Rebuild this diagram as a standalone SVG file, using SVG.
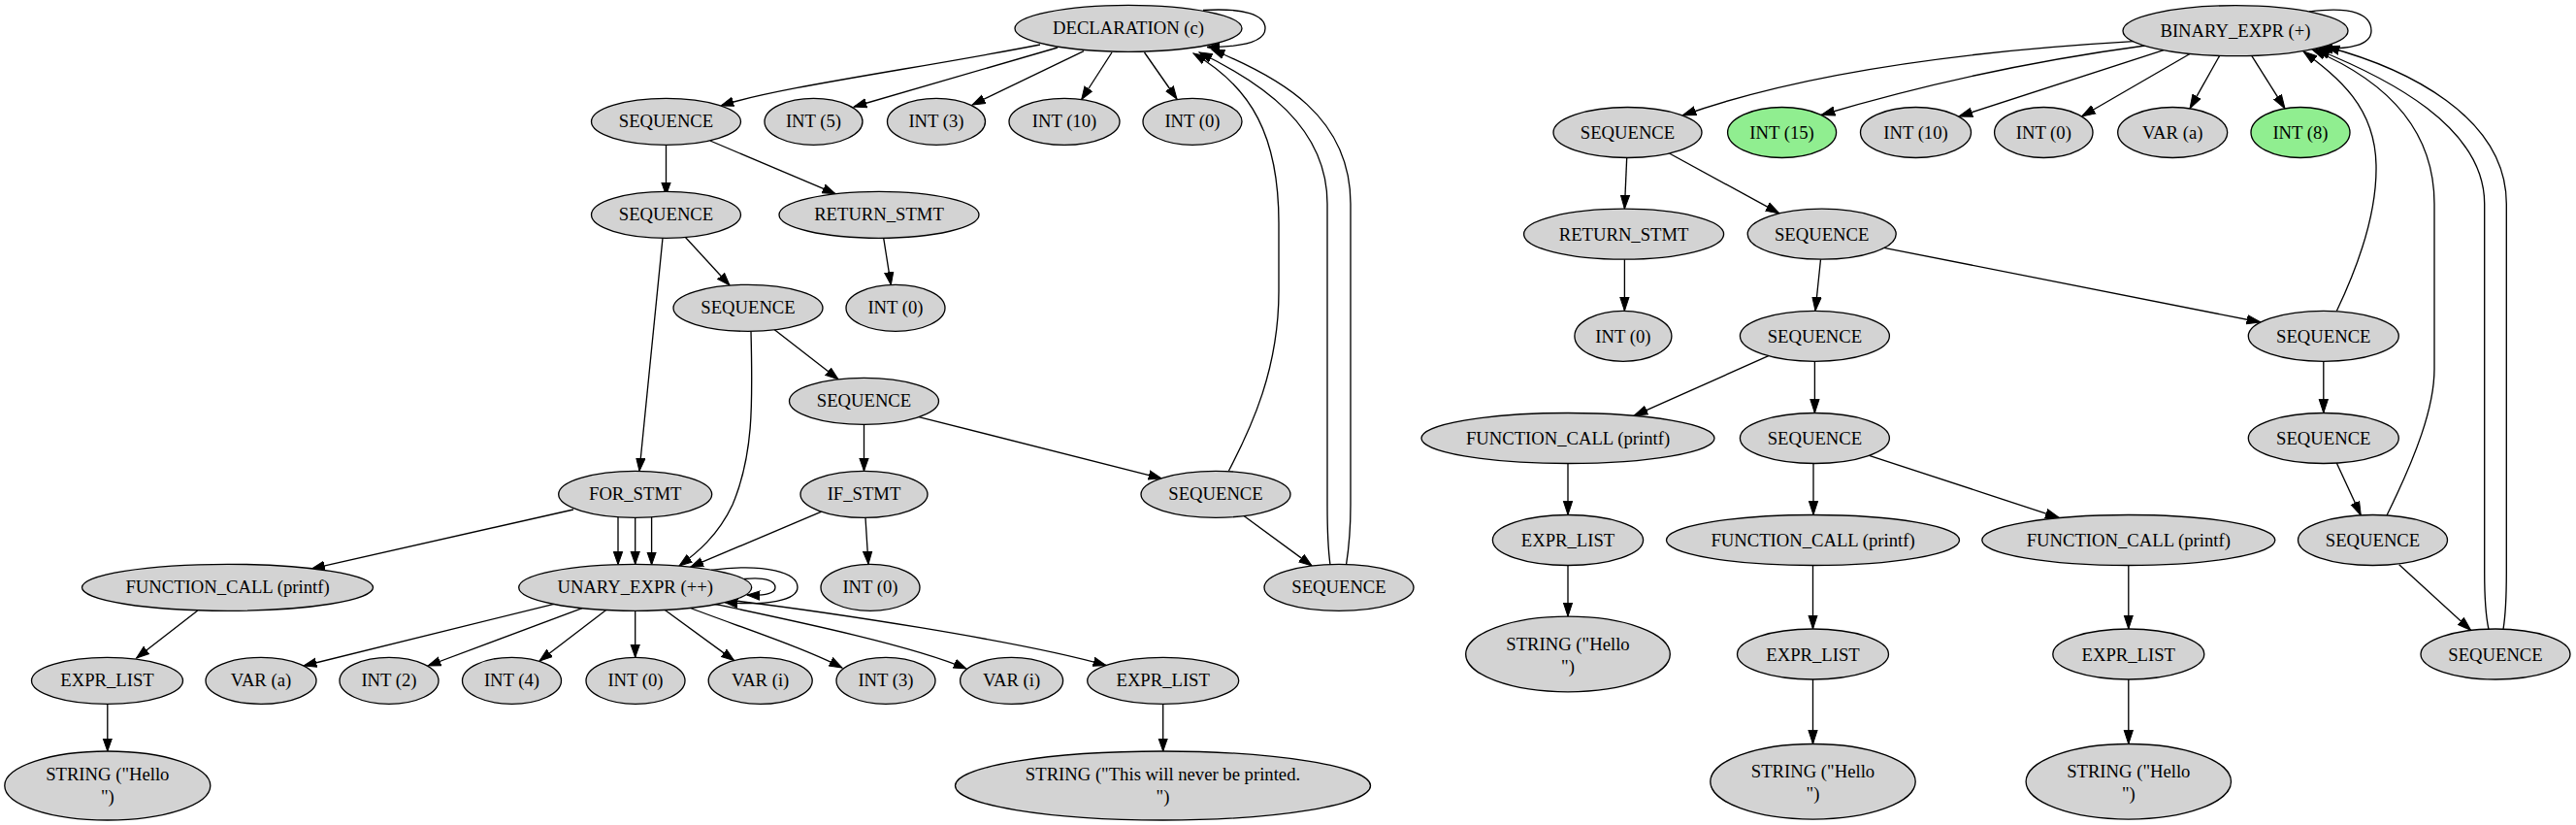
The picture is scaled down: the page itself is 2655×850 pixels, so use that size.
<svg xmlns="http://www.w3.org/2000/svg" width="2655" height="850" viewBox="0 0 2655 850">
<style>
.node ellipse{fill:#d3d3d3;stroke:#000;stroke-width:1.33}
.node.green ellipse{fill:#90ee90}
.node text{font-family:"Liberation Serif","Times New Roman",serif;font-size:18.67px;text-anchor:middle;fill:#000}
.edges path{fill:none;stroke:#000;stroke-width:1.33}
.edges.l path{marker-end:url(#aL)}
.edges.r path{marker-end:url(#aR)}
</style>
<defs>
<marker id="aL" markerUnits="userSpaceOnUse" markerWidth="16" markerHeight="12" viewBox="0 -6 16 12" refX="13.3" refY="0" orient="auto"><path d="M0,-4.67L13.3,0L0,4.67z" fill="#000" stroke="#000" stroke-width="1"/></marker>
<marker id="aR" markerUnits="userSpaceOnUse" markerWidth="17" markerHeight="12" viewBox="0 -6 17 12" refX="14.3" refY="0" orient="auto"><path d="M0,-4.67L14.3,0L0,4.67z" fill="#000" stroke="#000" stroke-width="1"/></marker>
</defs>
<rect width="2655" height="850" fill="#fff"/>

<g id="connectors-left" class="edges l">
<path d="M1072,46 C950,70 800,90 743,109"/>
<path d="M1090,49 L880,110"/>
<path d="M1117,52.7 L1002,108"/>
<path d="M1146,54 L1114.7,102.5"/>
<path d="M1179.5,54 L1213,102"/>
<path d="M1240,10.5 C1282,8 1304,15 1304,29.3 C1304,42 1285,48.5 1244,48.5"/>
<path d="M1266.5,485 C1290,440 1318,380 1318,300 L1318,230 C1318,140 1290,90 1230,55"/>
<path d="M1371,582 C1368,560 1368,540 1368,520 L1368,210 C1368,130 1300,85 1236,54"/>
<path d="M1387.5,582 C1391,560 1392,540 1392,520 L1392,210 C1392,120 1320,80 1249,51"/>
<path d="M686.5,149.3 L686.5,201.3"/>
<path d="M731.9,145 L861,199.7"/>
<path d="M683,245.3 L659,485.3"/>
<path d="M706,244 L752,294"/>
<path d="M910.7,245.3 L918.3,293.5"/>
<path d="M798,339.5 L864,390.8"/>
<path d="M774,341.3 C776,420 776,470 755,520 C740,552 718,570 700,583"/>
<path d="M637,532.5 L637,581.7"/>
<path d="M654.7,533.3 L654.7,581.3"/>
<path d="M671.6,532.5 L671.6,582"/>
<path d="M846.7,527.1 L711.7,584.2"/>
<path d="M892,533.3 L895,581.3"/>
<path d="M890.5,437.3 L890.5,485.3"/>
<path d="M947,429.6 L1197,492.8"/>
<path d="M1282,531.5 L1352,582.9"/>
<path d="M591,525 L321.5,585.8"/>
<path d="M203.8,629 L140.6,678"/>
<path d="M110.8,725.3 L110.8,774"/>
<path d="M573,621.9 L313,686"/>
<path d="M600,626.7 L441,686"/>
<path d="M625,628.3 L556,681"/>
<path d="M654.7,629.3 L654.7,677.3"/>
<path d="M685,628.3 L756.7,680.6"/>
<path d="M711.7,626.5 C760,645 830,668 868,688"/>
<path d="M735,622 C820,640 940,665 996,689"/>
<path d="M750,618 C850,630 1050,660 1140,685.5"/>
<path d="M767,596.5 C790,594 799,599 799,605.3 C799,611 790,614 770,613"/>
<path d="M733,587.3 C790,580 822,590 822,605 C822,619 790,624 747,620.6"/>
<path d="M1198.7,725.3 L1198.7,774"/>
</g>

<g id="connectors-right" class="edges r">
<path d="M2199,42.7 Q1900,60 1734,119"/>
<path d="M2211,47 Q2040,70 1877,118.5"/>
<path d="M2230,51.7 L2018.7,120.1"/>
<path d="M2257,55.5 L2145.5,120"/>
<path d="M2287.7,57.3 L2257,111.8"/>
<path d="M2320.7,57.3 L2355,111.8"/>
<path d="M2380,12 C2425,6 2444,15 2444,31.7 C2444,47 2420,51 2390,50"/>
<path d="M2408.3,320.5 C2430,275 2450,220 2449,170 C2448,110 2410,80 2374,53"/>
<path d="M2460,531 C2490,470 2509,420 2509,380 L2509,210 C2509,120 2440,75 2383,51"/>
<path d="M2565,648.5 C2561,630 2560.7,610 2560.7,590 L2560.7,210 C2560.7,130 2460,80 2387,50.5"/>
<path d="M2580,648.5 C2583,630 2583.3,610 2583.3,590 L2583.3,210 C2583.3,120 2480,70 2397,48"/>
<path d="M1676.7,162.5 L1674.4,215.2"/>
<path d="M1720.5,158 L1834,219.9"/>
<path d="M1674.4,267.2 L1674.4,320.3"/>
<path d="M1876.5,267.2 L1871,320.3"/>
<path d="M1941.9,255.3 L2330,332"/>
<path d="M1822.7,366.7 L1684,428.3"/>
<path d="M1870.4,372.3 L1870.4,425.5"/>
<path d="M2394.8,372.3 L2394.8,425.5"/>
<path d="M1616,477.5 L1616,530.5"/>
<path d="M1869,477.5 L1869,530.5"/>
<path d="M1926.5,469.3 L2122.5,533.6"/>
<path d="M2408.3,477 L2433.3,531"/>
<path d="M2472.7,581.7 L2546.7,649.5"/>
<path d="M1616,582.5 L1616,635.2"/>
<path d="M1868.5,582.5 L1868.5,648"/>
<path d="M2193.8,582.5 L2193.8,648"/>
<path d="M1868.5,700 L1868.5,766.5"/>
<path d="M2193.8,700 L2193.8,766.5"/>
</g>

<g id="L_decl" class="node"><ellipse cx="1163" cy="29.3" rx="117" ry="24"/><text x="1163" y="35.3">DECLARATION (c)</text></g>
<g id="L_seq1" class="node"><ellipse cx="686.5" cy="125.3" rx="77" ry="24"/><text x="686.5" y="131.3">SEQUENCE</text></g>
<g id="L_int5" class="node"><ellipse cx="838.5" cy="125.3" rx="50.5" ry="24"/><text x="838.5" y="131.3">INT (5)</text></g>
<g id="L_int3" class="node"><ellipse cx="965" cy="125.3" rx="50.5" ry="24"/><text x="965" y="131.3">INT (3)</text></g>
<g id="L_int10" class="node"><ellipse cx="1097" cy="125.3" rx="57" ry="24"/><text x="1097" y="131.3">INT (10)</text></g>
<g id="L_int0a" class="node"><ellipse cx="1229" cy="125.3" rx="51" ry="24"/><text x="1229" y="131.3">INT (0)</text></g>
<g id="L_seq2" class="node"><ellipse cx="686.5" cy="221.3" rx="77" ry="24"/><text x="686.5" y="227.3">SEQUENCE</text></g>
<g id="L_ret" class="node"><ellipse cx="906" cy="221.3" rx="103" ry="24"/><text x="906" y="227.3">RETURN_STMT</text></g>
<g id="L_seq3" class="node"><ellipse cx="771" cy="317.3" rx="77" ry="24"/><text x="771" y="323.3">SEQUENCE</text></g>
<g id="L_int0b" class="node"><ellipse cx="923" cy="317.3" rx="51" ry="24"/><text x="923" y="323.3">INT (0)</text></g>
<g id="L_seq4" class="node"><ellipse cx="890.5" cy="413.3" rx="77" ry="24"/><text x="890.5" y="419.3">SEQUENCE</text></g>
<g id="L_for" class="node"><ellipse cx="654.7" cy="509.3" rx="79" ry="24"/><text x="654.7" y="515.3">FOR_STMT</text></g>
<g id="L_if" class="node"><ellipse cx="890.5" cy="509.3" rx="65.5" ry="24"/><text x="890.5" y="515.3">IF_STMT</text></g>
<g id="L_seq5" class="node"><ellipse cx="1253" cy="509.3" rx="77" ry="24"/><text x="1253" y="515.3">SEQUENCE</text></g>
<g id="L_func" class="node"><ellipse cx="234.5" cy="605.3" rx="150" ry="24"/><text x="234.5" y="611.3">FUNCTION_CALL (printf)</text></g>
<g id="L_unary" class="node"><ellipse cx="654.7" cy="605.3" rx="120" ry="24"/><text x="654.7" y="611.3">UNARY_EXPR (++)</text></g>
<g id="L_int0c" class="node"><ellipse cx="897" cy="605.3" rx="51" ry="24"/><text x="897" y="611.3">INT (0)</text></g>
<g id="L_seq6" class="node"><ellipse cx="1380" cy="605.3" rx="77" ry="24"/><text x="1380" y="611.3">SEQUENCE</text></g>
<g id="L_expr1" class="node"><ellipse cx="110.5" cy="701.3" rx="78" ry="24"/><text x="110.5" y="707.3">EXPR_LIST</text></g>
<g id="L_vara" class="node"><ellipse cx="269" cy="701.3" rx="57" ry="24"/><text x="269" y="707.3">VAR (a)</text></g>
<g id="L_int2" class="node"><ellipse cx="401" cy="701.3" rx="51" ry="24"/><text x="401" y="707.3">INT (2)</text></g>
<g id="L_int4" class="node"><ellipse cx="527.5" cy="701.3" rx="51" ry="24"/><text x="527.5" y="707.3">INT (4)</text></g>
<g id="L_int0d" class="node"><ellipse cx="655" cy="701.3" rx="51" ry="24"/><text x="655" y="707.3">INT (0)</text></g>
<g id="L_vari1" class="node"><ellipse cx="783.7" cy="701.3" rx="53.5" ry="24"/><text x="783.7" y="707.3">VAR (i)</text></g>
<g id="L_int3b" class="node"><ellipse cx="913" cy="701.3" rx="51" ry="24"/><text x="913" y="707.3">INT (3)</text></g>
<g id="L_vari2" class="node"><ellipse cx="1042.6" cy="701.3" rx="53" ry="24"/><text x="1042.6" y="707.3">VAR (i)</text></g>
<g id="L_expr2" class="node"><ellipse cx="1198.7" cy="701.3" rx="78" ry="24"/><text x="1198.7" y="707.3">EXPR_LIST</text></g>
<g id="L_str1" class="node"><ellipse cx="110.8" cy="809.5" rx="106" ry="35.5"/><text x="110.8" y="804.3">STRING ("Hello<tspan x="110.8" y="826.5">")</tspan></text></g>
<g id="L_str2" class="node"><ellipse cx="1198.5" cy="809.5" rx="214" ry="35.5"/><text x="1198.5" y="804.3">STRING ("This will never be printed.<tspan x="1198.5" y="826.5">")</tspan></text></g>

<g id="R_bin" class="node"><ellipse cx="2304" cy="31.7" rx="116" ry="26"/><text x="2304" y="38.2">BINARY_EXPR (+)</text></g>
<g id="R_seq1" class="node"><ellipse cx="1677.5" cy="136.5" rx="76.5" ry="26"/><text x="1677.5" y="143">SEQUENCE</text></g>
<g id="R_int15" class="node green"><ellipse cx="1836.6" cy="136.5" rx="56" ry="26"/><text x="1836.6" y="143">INT (15)</text></g>
<g id="R_int10" class="node"><ellipse cx="1974.5" cy="136.5" rx="57" ry="26"/><text x="1974.5" y="143">INT (10)</text></g>
<g id="R_int0a" class="node"><ellipse cx="2106.3" cy="136.5" rx="50.7" ry="26"/><text x="2106.3" y="143">INT (0)</text></g>
<g id="R_vara" class="node"><ellipse cx="2239.2" cy="136.5" rx="56.5" ry="26"/><text x="2239.2" y="143">VAR (a)</text></g>
<g id="R_int8" class="node green"><ellipse cx="2371" cy="136.5" rx="51" ry="26"/><text x="2371" y="143">INT (8)</text></g>
<g id="R_ret" class="node"><ellipse cx="1673.6" cy="241.2" rx="103" ry="26"/><text x="1673.6" y="247.7">RETURN_STMT</text></g>
<g id="R_seq2" class="node"><ellipse cx="1877.7" cy="241.2" rx="76.5" ry="26"/><text x="1877.7" y="247.7">SEQUENCE</text></g>
<g id="R_int0b" class="node"><ellipse cx="1672.9" cy="346.3" rx="50" ry="26"/><text x="1672.9" y="352.8">INT (0)</text></g>
<g id="R_seq3" class="node"><ellipse cx="1870.4" cy="346.3" rx="77" ry="26"/><text x="1870.4" y="352.8">SEQUENCE</text></g>
<g id="R_seq3b" class="node"><ellipse cx="2394.8" cy="346.3" rx="77.5" ry="26"/><text x="2394.8" y="352.8">SEQUENCE</text></g>
<g id="R_func1" class="node"><ellipse cx="1616" cy="451.5" rx="151" ry="26"/><text x="1616" y="458">FUNCTION_CALL (printf)</text></g>
<g id="R_seq4" class="node"><ellipse cx="1870.4" cy="451.5" rx="77" ry="26"/><text x="1870.4" y="458">SEQUENCE</text></g>
<g id="R_seq4b" class="node"><ellipse cx="2394.8" cy="451.5" rx="77.5" ry="26"/><text x="2394.8" y="458">SEQUENCE</text></g>
<g id="R_expr1" class="node"><ellipse cx="1616" cy="556.5" rx="77.6" ry="26"/><text x="1616" y="563">EXPR_LIST</text></g>
<g id="R_func2" class="node"><ellipse cx="1868.5" cy="556.5" rx="151" ry="26"/><text x="1868.5" y="563">FUNCTION_CALL (printf)</text></g>
<g id="R_func3" class="node"><ellipse cx="2193.8" cy="556.5" rx="151" ry="26"/><text x="2193.8" y="563">FUNCTION_CALL (printf)</text></g>
<g id="R_seq5" class="node"><ellipse cx="2445.5" cy="556.5" rx="77" ry="26"/><text x="2445.5" y="563">SEQUENCE</text></g>
<g id="R_str1" class="node"><ellipse cx="1616" cy="674" rx="105.3" ry="38.8"/><text x="1616" y="669.8">STRING ("Hello<tspan x="1616" y="693">")</tspan></text></g>
<g id="R_expr2" class="node"><ellipse cx="1868.5" cy="674" rx="78" ry="26"/><text x="1868.5" y="680.5">EXPR_LIST</text></g>
<g id="R_expr3" class="node"><ellipse cx="2193.8" cy="674" rx="78" ry="26"/><text x="2193.8" y="680.5">EXPR_LIST</text></g>
<g id="R_seq6" class="node"><ellipse cx="2572" cy="674" rx="77" ry="26"/><text x="2572" y="680.5">SEQUENCE</text></g>
<g id="R_str2" class="node"><ellipse cx="1868.5" cy="805.3" rx="105.7" ry="38.8"/><text x="1868.5" y="801.1">STRING ("Hello<tspan x="1868.5" y="824.3">")</tspan></text></g>
<g id="R_str3" class="node"><ellipse cx="2193.8" cy="805.3" rx="105.7" ry="38.8"/><text x="2193.8" y="801.1">STRING ("Hello<tspan x="2193.8" y="824.3">")</tspan></text></g>
</svg>
